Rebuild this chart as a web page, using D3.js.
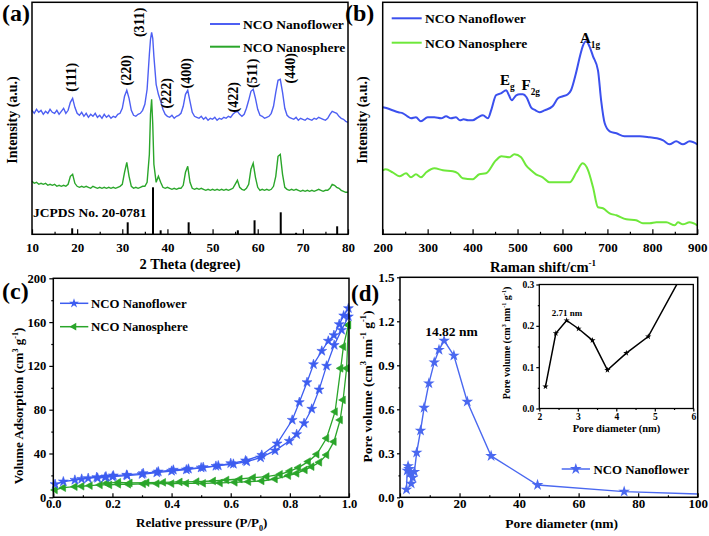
<!DOCTYPE html>
<html><head><meta charset="utf-8">
<script src="https://cdn.jsdelivr.net/npm/d3@7"></script>
<style>
body{margin:0;background:#fff}
text{font-family:"Liberation Serif","Times New Roman",serif;font-weight:bold;fill:#000}
</style>
</head><body>
<script>
// ---------------- DATA ----------------
// (a) XRD
const xrdTheta = [10,10.5,11,11.5,12,12.5,13,13.5,14,14.5,15,15.5,16,16.5,17,17.5,18,18.5,19,19.5,20,20.5,21,21.5,22,22.5,23,23.5,24,24.5,25,25.5,26,26.5,27,27.5,28,28.5,29,29.5,30,30.5,31,31.5,32,32.5,33,33.5,34,34.5,35,35.5,36,36.25,36.5,36.75,37,37.5,38,38.5,39,39.5,40,40.5,41,41.5,42,42.5,43,43.5,44,44.5,45,45.5,46,46.5,47,47.5,48,48.5,49,49.5,50,50.5,51,51.5,52,52.5,53,53.5,54,54.5,55,55.5,56,56.5,57,57.5,58,58.5,59,59.5,60,60.5,61,61.5,62,62.5,63,63.5,64,64.5,65,65.5,66,66.5,67,67.5,68,68.5,69,69.5,70,70.5,71,71.5,72,72.5,73,73.5,74,74.5,75,75.5,76,76.5,77,77.5,78,78.5,79,79.5,80];
const xrdFlower = [124,121,125,122,124,120,123,121,125,122,121,124,120,123,126,121,124,132,136,127,121,119,122,118,121,117,120,118,121,117,119,116,120,117,119,116,118,117,120,121,126,138,144,136,124,119,118,120,121,124,130,145,180,195,202,196,178,150,140,133,125,120,118,117,119,116,118,119,121,128,140,144,133,122,118,117,116,118,115,117,114,116,115,117,114,116,115,117,116,118,117,120,122,123,120,118,120,126,134,143,145,136,125,119,118,116,117,118,121,128,142,154,155,142,126,119,117,116,115,117,114,116,115,114,116,115,114,116,115,117,116,115,114,116,120,123,122,121,118,116,115,113,112];
const xrdSphere = [53,51,52,50,51,50,51,49,50,49,50,48,49,48,49,48,50,58,60,51,48,47,48,47,48,47,46,48,47,46,47,46,47,46,47,46,47,46,47,48,50,62,72,58,48,46,47,46,47,48,48,52,80,120,135,110,70,52,58,52,47,46,47,46,45,46,45,46,46,49,62,68,52,46,45,46,45,46,45,44,45,44,45,44,45,44,45,44,45,44,45,46,50,54,47,45,44,46,50,65,71,57,47,44,45,44,45,44,45,48,58,78,80,60,47,45,44,45,44,45,44,43,44,43,44,43,44,43,44,45,44,43,44,44,46,50,49,47,46,44,43,42,42];
const jcpdsPos = [18.9,31.2,36.8,38.5,44.7,55.6,59.3,65.1,68.5,77.6];
const jcpdsInt = [6,12,47,4,12,4,14,22,1.5,8];
const hklLabels = ["(111)","(220)","(311)","(222)","(400)","(422)","(511)","(440)"];
const hklTheta = [18.8,31.0,33.9,39.8,44.3,54.6,58.8,67.2];
const hklInt = [157,164,212,141,161,137,161,166];
const xrdTicks = [10,20,30,40,50,60,70,80];
const xrdMinor = [15,25,35,45,55,65,75];

// (b) Raman
const ramanFlowerX = [200,210,222,235,245,255,263,274,285,300,315,330,341,352,363,372,380,390,400,412,423,434,442,452,463,475,481,487,497,505,512,520,530,540,549,560,578,590,601,612,619,630,640,645,653,660,668,679,686,694,705,720,738,755,772,794,810,824,838,853,868,883,900];
const ramanFlowerY = [127,126,124,122,121,118,116,117,113,117,117,116,118,116,117,114,115,114,114,117,119,116,125,139,141,144,139,134,139,140,140,137,127,124,122,124,128,136,138,140,144,161,180,188,193,188,178,164,134,111,103,101,98,98,98,97,96,94,90,93,90,93,90];
const ramanSphereX = [200,207,222,237,252,263,274,285,297,315,334,356,367,378,400,415,430,452,464,482,493,508,519,530,541,556,571,593,616,631,645,657,668,679,690,705,720,742,764,779,794,809,831,850,857,868,883,900];
const ramanSphereY = [64,65,62,58,61,57,60,57,62,66,64,63,61,56,55,60,61,74,78,77,80,77,69,64,60,57,52,52,52,62,71,64,47,27,26,21,19,15,14,11,11,12,12,9,12,10,12,9];
const ramanTicks = [200,300,400,500,600,700,800,900];
const ramanMinor = [250,350,450,550,650,750,850];

// (c) N2 isotherms
const flowerAdsP = [0.006,0.034,0.073,0.096,0.118,0.147,0.178,0.203,0.248,0.304,0.355,0.406,0.457,0.507,0.558,0.609,0.654,0.701,0.75,0.798,0.823,0.848,0.874,0.899,0.924,0.95,0.975,0.998];
const flowerAdsV = [11.9,14.3,15.8,16.7,17.4,18.3,18.9,19.8,20.4,21.9,23.4,25,25.9,27.4,28.9,30.4,32.6,36.2,42.6,51.4,57.5,67.6,80.7,98.3,120,139,152.8,165];
const flowerDesP = [0.998,0.982,0.967,0.949,0.930,0.908,0.880,0.858,0.832,0.808,0.757,0.705,0.650,0.600,0.550,0.500,0.450,0.400,0.350,0.300,0.250,0.200,0.175,0.150];
const flowerDesV = [172.6,165.9,158,148,142.8,133.6,121.4,105,86.8,70.6,49,38.6,33.5,31,28.5,27,25.2,24,22.5,21,19.8,18.8,18.2,17.5];
const sphereAdsP = [0.006,0.034,0.073,0.096,0.124,0.158,0.19,0.22,0.254,0.304,0.35,0.4,0.45,0.507,0.564,0.614,0.66,0.705,0.75,0.795,0.823,0.851,0.874,0.9,0.924,0.949,0.97,0.98,0.992,0.998];
const sphereAdsV = [6.7,8.8,9.7,10.1,10.7,11.3,11.3,11.9,11.9,12.2,12.5,12.5,12.8,12.8,13.1,13.7,14.3,14.9,16.7,19.8,21.9,25,28,32,38.7,50.8,70.6,88.9,117.8,157.4];
const sphereDesP = [0.998,0.981,0.972,0.953,0.924,0.891,0.862,0.829,0.8,0.767,0.722,0.676,0.631,0.586,0.541,0.485,0.428,0.372,0.316,0.259,0.22,0.18];
const sphereDesV = [157.4,137.6,117.8,78.2,53.9,39.3,32.6,27.1,24,21,18.9,18,16.7,15.8,14.9,14.3,14,13.7,13.4,13.1,13.7,12.9];
const betXTicks = [0,0.2,0.4,0.6,0.8,1.0];
const betXMinor = [0.1,0.3,0.5,0.7,0.9];
const betYTicks = [0,40,80,120,160,200];
const betYMinor = [20,60,100,140,180];

// (d) pore size distribution
const poreD = [2.16,2.43,2.71,3.02,3.38,3.77,4.26,4.83,5.6,6.9,8.1,9.7,11.5,13.1,14.82,18.1,22.6,30.6,46.2,75.3,100];
const poreV = [0.053,0.182,0.213,0.193,0.165,0.093,0.134,0.174,0.305,0.455,0.611,0.777,0.92,1.005,1.068,0.966,0.652,0.282,0.084,0.039,0.023];
const pdXTicks = [0,20,40,60,80,100];
const pdXMinor = [10,30,50,70,90];
const pdYTicks = [0,0.3,0.6,0.9,1.2,1.5];
const pdYMinor = [0.15,0.45,0.75,1.05,1.35];
const insetXTicks = [2,3,4,5,6];
const insetXMinor = [2.5,3.5,4.5,5.5];
const insetYTicks = [0,0.1,0.2,0.3];
const insetYMinor = [0.05,0.15,0.25];

// ---------------- DRAW ----------------
const svg = d3.select("body").append("svg").attr("width",709).attr("height",536)
  .style("background","#fff");
const defs = svg.append("defs");

const C = {
  xrdBlue:"#4d5ff3", xrdGreen:"#2aa62a",
  ramBlue:"#3b50ee", ramGreen:"#6ee83a",
  betBlue:"#3d5df0", betGreen:"#2aa52a",
  pdBlue:"#4a68f0"
};

function rich(t, parts, fs){
  let cur = 0;
  parts.forEach(([s, k]) => {
    const target = k===1 ? -fs*0.42 : (k===-1 ? fs*0.3 : 0);
    t.append("tspan").attr("dy", target-cur).attr("font-size", k ? fs*0.62 : fs).text(s);
    cur = target;
  });
  return t;
}
function frame(x, y, sw){
  const [x0,x1] = x.range(), [y0,y1] = y.range();
  svg.append("rect").attr("x",Math.min(x0,x1)).attr("y",Math.min(y0,y1))
    .attr("width",Math.abs(x1-x0)).attr("height",Math.abs(y1-y0))
    .attr("fill","none").attr("stroke","#000").attr("stroke-width",sw||1.5);
}
function styleAxis(g, fs){
  g.select(".domain").remove();
  g.selectAll("line").attr("stroke","#000").attr("stroke-width",1.2);
  g.selectAll("text").attr("font-size",fs).attr("font-family",'"Liberation Serif","Times New Roman",serif')
    .attr("font-weight","bold").attr("fill","#000");
}
function xAxis(x, yPix, major, minor, size, pad, fs, fmt){
  const g = svg.append("g").attr("transform",`translate(0,${yPix})`)
    .call(d3.axisBottom(x).tickValues(major).tickSize(size).tickSizeOuter(0).tickPadding(pad).tickFormat(fmt));
  styleAxis(g, fs);
  const m = svg.append("g").attr("transform",`translate(0,${yPix})`)
    .call(d3.axisBottom(x).tickValues(minor).tickSize(size/2).tickSizeOuter(0).tickFormat(""));
  styleAxis(m, fs);
}
function yAxis(y, xPix, major, minor, size, pad, fs, fmt){
  const g = svg.append("g").attr("transform",`translate(${xPix},0)`)
    .call(d3.axisLeft(y).tickValues(major).tickSize(size).tickSizeOuter(0).tickPadding(pad).tickFormat(fmt));
  styleAxis(g, fs);
  const m = svg.append("g").attr("transform",`translate(${xPix},0)`)
    .call(d3.axisLeft(y).tickValues(minor).tickSize(size/2).tickSizeOuter(0).tickFormat(""));
  styleAxis(m, fs);
}
function label(x, y, txt, fs, opts){
  opts = opts||{};
  const t = svg.append("text").attr("x",x).attr("y",y).attr("font-size",fs)
    .attr("text-anchor",opts.anchor||"start");
  if (opts.rotate) t.attr("transform",`rotate(-90,${x},${y})`);
  if (Array.isArray(txt)) rich(t, txt, fs); else t.text(txt);
  return t;
}

// ===== (a) XRD =====
const xA = d3.scaleLinear().domain([10,80]).range([32,348]);
const yA = d3.scaleLinear().domain([0,232]).range([234.3,2.3]);
const lineA = (ys) => d3.line().x((d,i)=>xA(xrdTheta[i])).y(d=>yA(d))(ys);
svg.append("path").attr("d",lineA(xrdSphere)).attr("fill","none").attr("stroke",C.xrdGreen).attr("stroke-width",1.4);
svg.append("path").attr("d",lineA(xrdFlower)).attr("fill","none").attr("stroke",C.xrdBlue).attr("stroke-width",1.4);
svg.append("g").selectAll("line").data(jcpdsPos).join("line")
  .attr("x1",d=>xA(d)).attr("x2",d=>xA(d)).attr("y1",yA(0)).attr("y2",(d,i)=>yA(jcpdsInt[i]))
  .attr("stroke","#000").attr("stroke-width",2);
xAxis(xA, 234.3, xrdTicks, xrdMinor, -5, 8, 13, d3.format("d"));
frame(xA, yA);
hklLabels.forEach((s,i)=>{
  svg.append("text").attr("font-size",14).attr("text-anchor","middle").attr("dominant-baseline","central")
    .attr("transform",`translate(${xA(hklTheta[i])},${yA(hklInt[i])}) rotate(-90)`).text(s);
});
label(33, 217, "JCPDS No. 20-0781", 13.5);
// legend (a)
svg.append("line").attr("x1",210).attr("x2",240).attr("y1",24).attr("y2",24).attr("stroke",C.xrdBlue).attr("stroke-width",2);
label(243, 29, "NCO Nanoflower", 13.5);
svg.append("line").attr("x1",210).attr("x2",240).attr("y1",46.7).attr("y2",46.7).attr("stroke",C.xrdGreen).attr("stroke-width",2);
label(243, 51.5, "NCO Nanosphere", 13.5);
label(190, 269, "2 Theta (degree)", 14.5, {anchor:"middle"});
label(17, 120, "Intensity (a.u.)", 14, {anchor:"middle", rotate:true});
label(2, 21, "(a)", 24);

// ===== (b) Raman =====
const xB = d3.scaleLinear().domain([200,900]).range([382.7,697.3]);
const yB = d3.scaleLinear().domain([0,232]).range([234.3,2.3]);
const lineB = d3.line().curve(d3.curveMonotoneX).x(d=>xB(d[0])).y(d=>yB(d[1]));
svg.append("path").attr("d",lineB(ramanSphereX.map((v,i)=>[v,ramanSphereY[i]])))
  .attr("fill","none").attr("stroke",C.ramGreen).attr("stroke-width",2);
svg.append("path").attr("d",lineB(ramanFlowerX.map((v,i)=>[v,ramanFlowerY[i]])))
  .attr("fill","none").attr("stroke",C.ramBlue).attr("stroke-width",2);
xAxis(xB, 234.3, ramanTicks, ramanMinor, -5, 8, 13, d3.format("d"));
frame(xB, yB);
svg.append("line").attr("x1",391.7).attr("x2",421.7).attr("y1",18.3).attr("y2",18.3).attr("stroke",C.ramBlue).attr("stroke-width",2);
label(425, 23, "NCO Nanoflower", 13.5);
svg.append("line").attr("x1",391.7).attr("x2",421.7).attr("y1",42.7).attr("y2",42.7).attr("stroke",C.ramGreen).attr("stroke-width",2);
label(425, 48, "NCO Nanosphere", 13.5);
label(500, 85, [["E",0],["g",-1]], 15);
label(521.5, 90, [["F",0],["2g",-1]], 15);
label(580, 43, [["A",0],["1g",-1]], 15);
label(543, 272, [["Raman shift/cm",0],["-1",1]], 14.5, {anchor:"middle"});
label(367, 120, "Intensity (a.u.)", 14, {anchor:"middle", rotate:true});
label(345, 21, "(b)", 24);

// ===== (c) BET =====
const xC = d3.scaleLinear().domain([0,1]).range([53.3,349]);
const yC = d3.scaleLinear().domain([0,200]).range([497.3,278.3]);
const star = d3.symbol().type(d3.symbolStar);
const tri = d3.symbol().type(d3.symbolTriangle);
function series(xs, ys, color, marker, sx, sy, mode){
  const pts = xs.map((v,i)=>[v,ys[i]]);
  svg.append("path").attr("d",d3.line().x(d=>sx(d[0])).y(d=>sy(d[1]))(pts))
    .attr("fill","none").attr("stroke",color).attr("stroke-width",1.3);
  svg.append("g").selectAll("path").data(pts).join("path")
    .attr("d",marker)
    .attr("transform",d=>`translate(${sx(d[0])},${sy(d[1])})${mode==="tri"?" rotate(-90)":""}`)
    .attr("fill",color).attr("stroke",color).attr("stroke-width",0.6);
}
series(sphereAdsP, sphereAdsV, C.betGreen, tri.size(26)(), xC, yC, "tri");
series(sphereDesP, sphereDesV, C.betGreen, tri.size(26)(), xC, yC, "tri");
series(flowerAdsP, flowerAdsV, C.betBlue, star.size(30)(), xC, yC);
series(flowerDesP, flowerDesV, C.betBlue, star.size(30)(), xC, yC);
xAxis(xC, 497.3, betXTicks, betXMinor, -4, 1.5, 12.5, d3.format(".1f"));
yAxis(yC, 53.3, betYTicks, betYMinor, 4, 3, 12.5, d3.format("d"));
frame(xC, yC);
svg.append("line").attr("x1",60).attr("x2",88.3).attr("y1",303.3).attr("y2",303.3).attr("stroke",C.betBlue).attr("stroke-width",1.5);
svg.append("path").attr("d",star.size(30)()).attr("transform","translate(74,303.3)").attr("fill",C.betBlue);
label(91, 307.5, "NCO Nanoflower", 12.8);
svg.append("line").attr("x1",60).attr("x2",88.3).attr("y1",326.7).attr("y2",326.7).attr("stroke",C.betGreen).attr("stroke-width",1.5);
svg.append("path").attr("d",tri.size(26)()).attr("transform","translate(74,326.7) rotate(-90)").attr("fill",C.betGreen);
label(91, 331, "NCO Nanosphere", 12.8);
label(201.7, 527, [["Relative pressure (P/P",0],["0",-1],[")",0]], 13, {anchor:"middle"});
label(23, 406, [["Volume Adsorption (cm",0],["3",1],[" g",0],["-1",1],[")",0]], 13, {anchor:"middle", rotate:true});
label(2, 299, "(c)", 24);

// ===== (d) pore size distribution =====
const xD = d3.scaleLinear().domain([0,100]).range([400,697.7]);
const yD = d3.scaleLinear().domain([0,1.5]).range([497.3,277.3]);
const pdPts = poreD.map((v,i)=>[v,poreV[i]]);
svg.append("path").attr("d",d3.line().x(d=>xD(d[0])).y(d=>yD(d[1]))(pdPts))
  .attr("fill","none").attr("stroke",C.pdBlue).attr("stroke-width",1.4);
svg.append("g").selectAll("path").data(pdPts.filter(d=>d[0]<100)).join("path")
  .attr("d",star.size(42)()).attr("transform",d=>`translate(${xD(d[0])},${yD(d[1])})`)
  .attr("fill",C.pdBlue);
xAxis(xD, 497.3, pdXTicks, pdXMinor, -4, 1.5, 13, d3.format("d"));
yAxis(yD, 400, pdYTicks, pdYMinor, 3, 2.5, 13, d3.format(".1f"));
frame(xD, yD);
label(451.5, 336, "14.82 nm", 13.5, {anchor:"middle"});
svg.append("line").attr("x1",561.7).attr("x2",590).attr("y1",469).attr("y2",469).attr("stroke",C.pdBlue).attr("stroke-width",1.5);
svg.append("path").attr("d",star.size(42)()).attr("transform","translate(575.8,469)").attr("fill",C.pdBlue);
label(593.5, 473.5, "NCO Nanoflower", 12.8);
label(561.7, 528, "Pore diameter (nm)", 13.5, {anchor:"middle"});
label(372, 386.5, [["Pore volume (cm",0],["3",1],[" nm",0],["-1",1],[" g",0],["-1",1],[")",0]], 13.5, {anchor:"middle", rotate:true});
label(351, 301, "(d)", 23);

// inset
const xI = d3.scaleLinear().domain([2,6]).range([539.3,693.3]);
const yI = d3.scaleLinear().domain([0,0.3]).range([408.5,284.5]);
defs.append("clipPath").attr("id","insetClip").append("rect")
  .attr("x",539.3).attr("y",284.5).attr("width",154).attr("height",124);
const insetPts = pdPts.filter(d=>d[0]<=6);
svg.append("rect").attr("x",539.3).attr("y",284.5).attr("width",154).attr("height",124).attr("fill","#fff");
svg.append("path").attr("clip-path","url(#insetClip)")
  .attr("d",d3.line().x(d=>xI(d[0])).y(d=>yI(d[1]))(insetPts))
  .attr("fill","none").attr("stroke","#000").attr("stroke-width",1.5);
svg.append("g").attr("clip-path","url(#insetClip)").selectAll("path").data(insetPts.filter(d=>d[1]<=0.3)).join("path")
  .attr("d",star.size(12)()).attr("transform",d=>`translate(${xI(d[0])},${yI(d[1])})`).attr("fill","#000");
xAxis(xI, 408.5, insetXTicks, insetXMinor, 3, 1.5, 9.5, d3.format("d"));
yAxis(yI, 539.3, insetYTicks, insetYMinor, 3, 2, 9.5, d3.format(".1f"));
frame(xI, yI, 1.3);
label(567, 315.5, "2.71 nm", 9, {anchor:"middle"});
label(616.5, 432, "Pore diameter (nm)", 10.5, {anchor:"middle"});
label(510, 343, [["Pore volume (cm",0],["3",1],[" nm",0],["-1",1],[" g",0],["-1",1],[")",0]], 10, {anchor:"middle", rotate:true});
</script>
</body></html>
